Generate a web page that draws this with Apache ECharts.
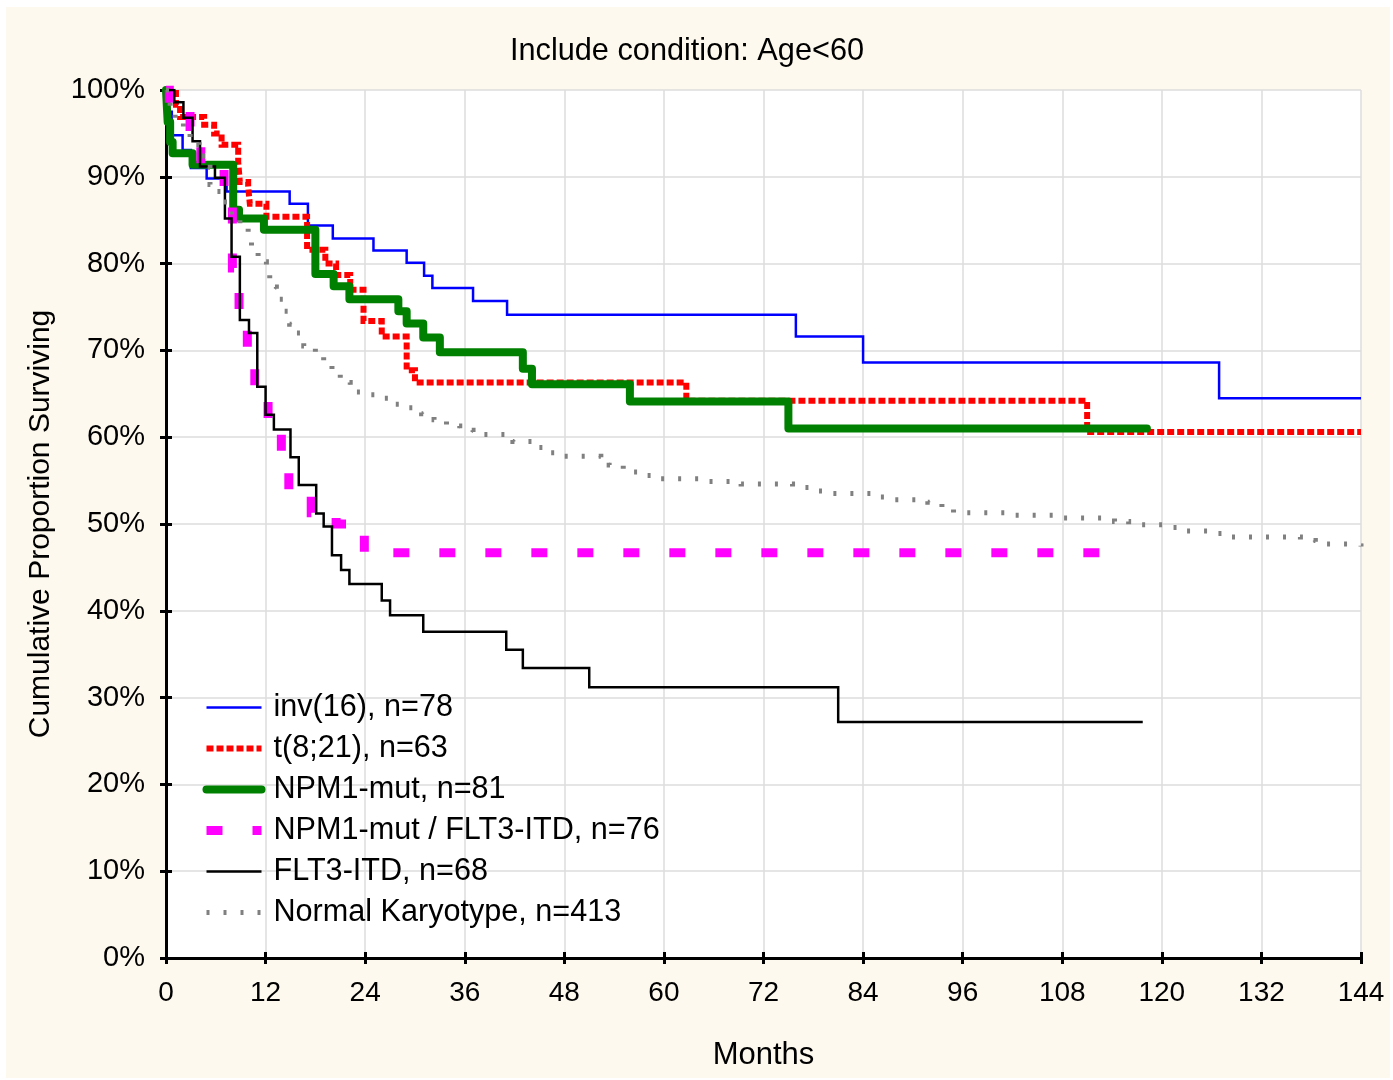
<!DOCTYPE html>
<html>
<head>
<meta charset="utf-8">
<script src="https://cdn.jsdelivr.net/npm/echarts@6/dist/echarts.min.js"></script>
<style>
  html, body { margin: 0; padding: 0; background: #ffffff; }
  #chart { position: absolute; left: 6px; top: 7px; width: 1384px; height: 1071px; background: #fdf9ee; }
</style>
</head>
<body>
<div id="chart"></div>
<script>
// Kaplan-Meier steps: month of each drop and the proportion after it (%)
const inv16Months = [0, 0.3, 0.7, 2.0, 3.0, 4.9, 7.3, 14.9, 17.1, 20.1, 25.0, 29.0, 31.1, 32.1, 37.0, 41.1, 75.9, 84.0, 126.9, 144];
const inv16Surv   = [100, 97.5, 94.8, 93.1, 91.0, 89.8, 88.3, 86.9, 84.4, 82.9, 81.5, 80.1, 78.6, 77.2, 75.7, 74.1, 71.6, 68.6, 64.5, 64.5];

const t821Months = [0, 1.2, 1.7, 4.6, 5.8, 6.7, 8.7, 8.9, 9.9, 10.1, 12.1, 17.0, 19.2, 20.5, 22.2, 23.8, 26.0, 29.0, 30.0, 62.7, 111.0, 144];
const t821Surv   = [100, 98.3, 96.9, 96.0, 95.0, 93.7, 91.7, 89.4, 88.9, 86.9, 85.4, 81.6, 80.0, 78.7, 77.0, 73.4, 71.6, 67.7, 66.3, 64.2, 60.6, 60.6];

const npm1Months = [0, 0.2, 0.5, 0.8, 3.2, 8.1, 8.8, 11.8, 18.0, 20.2, 22.1, 28.0, 29.0, 31.0, 33.0, 43.0, 44.1, 55.9, 75.0, 118.2];
const npm1Surv   = [100, 96.3, 94.0, 92.7, 91.4, 86.2, 85.2, 83.9, 78.8, 77.4, 75.9, 74.5, 73.1, 71.5, 69.8, 67.9, 66.1, 64.1, 61.0, 61.0];

const npmFltMonths = [0, 0.4, 2.9, 4.2, 7.0, 8.0, 8.8, 9.8, 10.7, 12.3, 13.9, 14.8, 17.5, 20.5, 23.9, 115];
const npmFltSurv   = [100, 97.5, 95.8, 91.0, 87.5, 79.5, 74.3, 70.0, 65.4, 62.2, 57.8, 53.3, 51.3, 50.0, 46.7, 46.7];

const flt3Months = [0, 1.0, 2.1, 3.2, 4.1, 5.9, 7.1, 7.9, 8.9, 10.0, 11.0, 12.0, 13.0, 15.0, 16.0, 18.1, 19.0, 20.0, 21.1, 22.1, 26.0, 27.0, 31.0, 41.0, 43.0, 51.0, 81.0, 117.7];
const flt3Surv   = [100, 98.6, 96.8, 94.1, 91.2, 89.9, 85.2, 80.8, 73.5, 72.0, 65.8, 62.6, 60.9, 57.7, 54.5, 51.2, 49.7, 46.4, 44.7, 43.1, 41.2, 39.5, 37.6, 35.5, 33.4, 31.2, 27.2, 27.2];

const normalMonths = [0, 0.5, 1.1, 2.1, 2.9, 4.0, 4.9, 5.3, 6.1, 6.9, 7.9, 8.9, 9.9, 10.3, 11.1, 12.1, 12.5, 13.3, 14.1, 14.9,
  15.7, 16.6, 18.0, 19.0, 20.0, 21.0, 22.2, 24.0, 25.8, 27.4, 29.2, 30.8, 32.3, 33.8, 35.4, 37.0, 41.8, 44.5, 46.0, 47.9,
  52.4, 53.4, 55.1, 56.9, 58.9, 65.2, 69.3, 75.5, 77.6, 79.7, 85.6, 87.6, 91.8, 93.5, 94.9, 101.5, 108.0, 114.3, 116.0, 120.5,
  121.9, 126.7, 128.1, 136.7, 138.5, 142.6, 144];
const normalSurv = [100, 98.0, 96.4, 95.0, 93.7, 92.4, 91.1, 89.1, 88.3, 87.1, 85.6, 84.6, 83.3, 81.6, 80.2, 78.9, 77.3, 75.9, 74.5, 73.0,
  72.0, 70.5, 69.8, 68.6, 67.5, 66.3, 65.2, 64.9, 64.5, 63.8, 63.4, 62.7, 62.0, 61.3, 60.8, 60.3, 59.5, 58.8, 58.2, 57.8,
  57.4, 56.8, 56.0, 55.6, 55.2, 54.9, 54.6, 54.2, 53.8, 53.5, 53.1, 52.8, 52.5, 51.8, 51.3, 51.0, 50.7, 50.3, 49.9, 49.6,
  49.2, 48.9, 48.5, 48.1, 47.7, 47.5, 47.4];

const monthTicks = [0, 144, 12];
const percentTicks = [0, 100, 10];

const FONT = 'Arial, "Liberation Sans", sans-serif';

function pairs(xs, ys) {
  return xs.map((x, i) => [x, ys[i]]);
}

function kmLine(name, xs, ys, lineStyle) {
  return {
    name,
    type: "line",
    step: "end",
    symbol: "none",
    data: pairs(xs, ys),
    itemStyle: { color: lineStyle.color },
    lineStyle: Object.assign({ cap: "butt", join: "miter" }, lineStyle),
    emphasis: { disabled: true },
  };
}

const tickAxisBase = {
  type: "value",
  axisLine: { show: true, lineStyle: { color: "#000", width: 3 } },
  axisTick: { show: true, inside: true, length: 6, lineStyle: { color: "#000", width: 3 } },
};

const option = {
  animation: false,
  backgroundColor: "transparent",
  textStyle: { fontFamily: FONT, color: "#000" },
  title: {
    text: "Include condition: Age<60",
    left: 676,
    top: 24,
    textAlign: "center",
    textStyle: { fontFamily: FONT, fontSize: 30.7, fontWeight: "normal", color: "#000" },
  },
  grid: {
    left: 160,
    top: 83,
    width: 1195,
    height: 868,
    show: true,
    backgroundColor: "#ffffff",
    borderWidth: 0,
  },
  legend: {
    orient: "vertical",
    left: 196,
    top: 685,
    padding: 0,
    itemWidth: 55,
    itemHeight: 14,
    itemGap: 10,
    selectedMode: false,
    itemStyle: { opacity: 0 },
    lineStyle: { width: "inherit", type: "inherit" },
    textStyle: { fontFamily: FONT, fontSize: 30.6, color: "#000", padding: [0, 0, 0, 7] },
  },
  xAxis: [
    Object.assign({}, tickAxisBase, {
      position: "bottom",
      min: monthTicks[0],
      max: monthTicks[1],
      interval: monthTicks[2],
      name: "Months",
      nameLocation: "middle",
      nameGap: 82,
      nameTextStyle: { fontFamily: FONT, fontSize: 31, color: "#000" },
      axisLabel: { margin: 21, fontFamily: FONT, fontSize: 28, color: "#000" },
      splitLine: { show: true, lineStyle: { color: "#dcdcdc", width: 1.5 } },
    }),
    Object.assign({}, tickAxisBase, {
      position: "top",
      min: monthTicks[0],
      max: monthTicks[1],
      interval: monthTicks[2],
      axisLabel: { show: false },
      splitLine: { show: false },
    }),
  ],
  yAxis: [
    Object.assign({}, tickAxisBase, {
      position: "left",
      min: percentTicks[0],
      max: percentTicks[1],
      interval: percentTicks[2],
      name: "Cumulative Proportion Surviving",
      nameLocation: "middle",
      nameGap: 110,
      nameTextStyle: { fontFamily: FONT, fontSize: 30, color: "#000" },
      axisLabel: { margin: 21, fontFamily: FONT, fontSize: 29, color: "#000", formatter: "{value}%" },
      splitLine: { show: true, lineStyle: { color: "#dcdcdc", width: 1.5 } },
    }),
    Object.assign({}, tickAxisBase, {
      position: "right",
      min: percentTicks[0],
      max: percentTicks[1],
      interval: percentTicks[2],
      axisLabel: { show: false },
      splitLine: { show: false },
    }),
  ],
  series: [
    kmLine("inv(16), n=78", inv16Months, inv16Surv, { color: "#0000ff", width: 2.5 }),
    kmLine("t(8;21), n=63", t821Months, t821Surv, { color: "#ff0000", width: 6, type: [7, 3] }),
    kmLine("NPM1-mut, n=81", npm1Months, npm1Surv, { color: "#008000", width: 8, join: "round", cap: "round" }),
    kmLine("NPM1-mut / FLT3-ITD, n=76", npmFltMonths, npmFltSurv, { color: "#ff00ff", width: 9, type: [16, 30] }),
    kmLine("FLT3-ITD, n=68", flt3Months, flt3Surv, { color: "#000000", width: 2.5 }),
    kmLine("Normal Karyotype, n=413", normalMonths, normalSurv, { color: "#808080", width: 5, type: [3, 14] }),
  ],
};

const chart = echarts.init(document.getElementById("chart"), undefined, { renderer: "canvas" });
chart.setOption(option);
</script>
</body>
</html>
